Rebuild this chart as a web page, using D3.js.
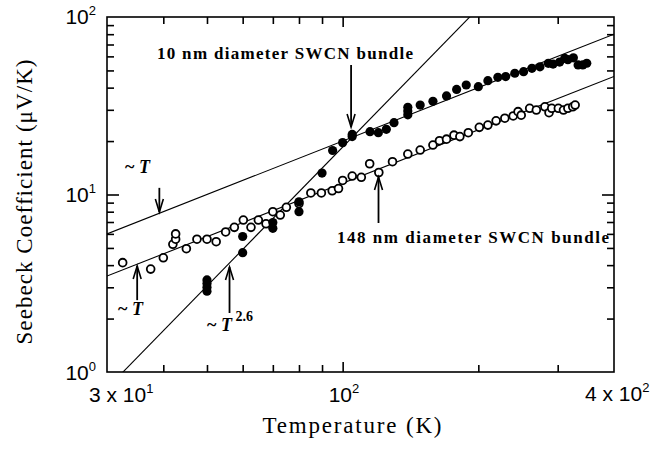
<!DOCTYPE html>
<meta charset="utf-8">
<style>
  body { margin: 0; background: #fff; }
  .serif { font-family: "Liberation Serif", "Times New Roman", serif; }
  .sans { font-family: "Liberation Sans", Arial, sans-serif; }
</style>
<svg width="665" height="449"></svg>
<script src="https://cdn.jsdelivr.net/npm/d3@7/dist/d3.min.js"></script>
<script>

// 10 nm bundle (filled circles)
var filledT = [50, 50, 50, 50, 60, 60, 70, 70, 80, 80, 90, 95, 100, 105, 105, 115, 120, 125, 130,
               139.5, 139.5, 139.5, 148.6, 158.6, 170, 179, 188, 200, 210, 221, 230, 241, 252,
               263, 274, 286, 293, 303, 311, 316, 325, 333, 341, 348];
var filledS = [2.85, 3.0, 3.15, 3.3, 4.7, 5.8, 6.45, 6.95, 8.0, 9.1, 13.2, 17.7, 19.6, 21.2, 21.8, 22.6, 22.3, 23.3, 25.4,
               28.1, 29.5, 31.0, 31.9, 33.5, 35.9, 39.1, 41.4, 40.5, 43.8, 45.7, 46.2, 48.2, 49.2,
               51.4, 52.4, 54.8, 54.3, 55.7, 58.5, 57.5, 58.9, 53.7, 53.7, 54.9];

// 148 nm bundle (open circles)
var openT = [32.5, 37.5, 40, 42, 42.6, 42.6, 45, 47.5, 50, 52.4, 55, 57.5, 60.2, 62.6, 65, 67.6, 70, 72.7, 75, 80,
             85, 89.7, 94.8, 97.9, 100, 105, 110, 114.8, 120.3, 129, 139.5, 148.6, 158.6, 164, 170, 176.6,
             182, 190, 201, 210, 219, 229, 239, 245, 249, 260, 269, 281, 287, 291, 301, 309, 316, 324, 328];
var openS = [4.13, 3.80, 4.40, 5.24, 5.6, 6.0, 4.95, 5.6, 5.6, 5.42, 6.15, 6.53, 7.18, 6.53, 7.18, 6.84, 8.0, 7.66, 8.47, 8.9,
             10.2, 10.2, 10.5, 10.8, 12.0, 12.7, 12.5, 14.9, 13.3, 15.3, 16.9, 17.8, 19.0, 20.1, 20.5, 21.6,
             21.2, 22.3, 23.9, 24.6, 26.0, 26.9, 27.7, 29.3, 28.0, 30.6, 29.9, 31.2, 28.9, 30.6, 30.6, 29.9, 30.6, 31.2, 31.9];

// power-law guide lines  S = a * T^n
var fitA = [0.2, 0.1157, Math.pow(32.56, -2.6)];
var fitN = [1, 1, 2.6];

var xMinor = [40, 50, 60, 70, 80, 90, 200, 300];
var xMajor = [100];
var yMinor = [2, 3, 4, 5, 6, 7, 8, 9, 20, 30, 40, 50, 60, 70, 80, 90];
var yMajor = [10];

var svg = d3.select("svg"),
    pL = 107, pR = 614, pT = 17, pB = 372;

var x = d3.scaleLog().domain([30, 400]).range([pL, pR]),
    y = d3.scaleLog().domain([1, 100]).range([pB, pT]);

svg.append("rect").attr("width", 665).attr("height", 449).attr("fill", "#fff");

svg.append("clipPath").attr("id", "plot")
  .append("rect").attr("x", pL).attr("y", pT).attr("width", pR - pL).attr("height", pB - pT);

// inward ticks on all four sides
function ticks(axis, vals, size) {
  return axis.tickValues(vals).tickSize(-size).tickFormat("");
}
var axes = [
  [d3.axisBottom(x), xMinor, 7, "translate(0," + pB + ")"],
  [d3.axisBottom(x), xMajor, 10, "translate(0," + pB + ")"],
  [d3.axisTop(x), xMinor, 7, "translate(0," + pT + ")"],
  [d3.axisTop(x), xMajor, 10, "translate(0," + pT + ")"],
  [d3.axisLeft(y), yMinor, 7, "translate(" + pL + ",0)"],
  [d3.axisLeft(y), yMajor, 12, "translate(" + pL + ",0)"],
  [d3.axisRight(y), yMinor, 7, "translate(" + pR + ",0)"],
  [d3.axisRight(y), yMajor, 12, "translate(" + pR + ",0)"]
];
axes.forEach(a => {
  var g = svg.append("g").attr("transform", a[3]).call(ticks(a[0], a[1], a[2]));
  g.select(".domain").remove();
  g.selectAll("line").attr("stroke", "#000").attr("stroke-width", 1.6);
});

svg.append("rect")
  .attr("x", pL).attr("y", pT).attr("width", pR - pL).attr("height", pB - pT)
  .attr("fill", "none").attr("stroke", "#000").attr("stroke-width", 1.6);

// guide lines
var lineG = svg.append("g").attr("clip-path", "url(#plot)");
fitA.forEach((a, i) => {
  var t0 = 30, t1 = 400;
  lineG.append("line")
    .attr("x1", x(t0)).attr("y1", y(a * Math.pow(t0, fitN[i])))
    .attr("x2", x(t1)).attr("y2", y(a * Math.pow(t1, fitN[i])))
    .attr("stroke", "#000").attr("stroke-width", 1.1);
});

// data
var ptG = svg.append("g").attr("clip-path", "url(#plot)");
ptG.selectAll(".open").data(d3.zip(openT, openS)).enter()
  .append("circle")
    .attr("cx", d => x(d[0])).attr("cy", d => y(d[1])).attr("r", 3.9)
    .attr("fill", "#fff").attr("stroke", "#000").attr("stroke-width", 1.8);
ptG.selectAll(".filled").data(d3.zip(filledT, filledS)).enter()
  .append("circle")
    .attr("cx", d => x(d[0])).attr("cy", d => y(d[1])).attr("r", 4.6)
    .attr("fill", "#000");

// arrows: [T, S tail, S tip]
var arrows = [[104.4, 53.6, 24.0], [120.1, 6.91, 12.55], [39.2, 10.9, 7.97], [35.0, 2.54, 3.96], [56.1, 2.15, 3.90]];
arrows.forEach(a => {
  var ax = x(a[0]), y0 = y(a[1]), y1 = y(a[2]), d = y1 > y0 ? -1 : 1;
  svg.append("line").attr("x1", ax).attr("x2", ax).attr("y1", y0).attr("y2", y1)
    .attr("stroke", "#000").attr("stroke-width", 1.8);
  svg.append("path")
    .attr("d", "M" + (ax - 4) + "," + (y1 + d * 13) + "L" + ax + "," + y1 + "L" + (ax + 4) + "," + (y1 + d * 13))
    .attr("fill", "none").attr("stroke", "#000").attr("stroke-width", 1.6);
});

// labels
function label(tx, ty, parts, cls, size, weight, anchor) {
  var t = svg.append("text").attr("class", cls).attr("x", tx).attr("y", ty)
    .attr("font-size", size).attr("font-weight", weight || "normal")
    .attr("text-anchor", anchor || "start");
  parts.forEach(p => {
    var s = t.append("tspan").text(p[0]);
    if (p[1]) s.attr("dy", p[1]);
    if (p[2]) s.attr("font-size", p[2]);
    if (p[3]) s.attr("font-style", p[3]);
  });
  return t;
}

label(157, 59, [["10 nm diameter SWCN bundle"]], "serif", 17, "bold").attr("textLength", 256);
label(337, 243, [["148 nm diameter SWCN  bundle"]], "serif", 17, "bold").attr("textLength", 272);
label(125, 173, [["~ "], ["T", 0, null, "italic"]], "serif", 18, "bold");
label(118, 315, [["~ "], ["T", 0, null, "italic"]], "serif", 18, "bold");
label(207, 331, [["~ "], ["T", 0, null, "italic"], [" 2.6", -10, 14]], "serif", 18, "bold");

// tick labels
label(96, 24, [["10"], ["2", -9, 13]], "sans", 21, null, "end");
label(96, 202, [["10"], ["1", -9, 13]], "sans", 21, null, "end");
label(96, 380, [["10"], ["0", -9, 13]], "sans", 21, null, "end");
label(89, 402, [["3 x 10"], ["1", -9, 13]], "sans", 21);
label(x(100) - 14, 402, [["10"], ["2", -9, 13]], "sans", 21);
label(585, 401, [["4 x 10"], ["2", -9, 13]], "sans", 21);

// axis titles
label(352, 433, [["Temperature (K)"]], "serif", 23, null, "middle").attr("textLength", 179);
svg.append("text").attr("class", "serif")
  .attr("transform", "translate(32," + 202 + ") rotate(-90)")
  .attr("text-anchor", "middle").attr("font-size", 23).attr("textLength", 285)
  .text("Seebeck Coefficient  (\u03bcV/K)");

</script>
